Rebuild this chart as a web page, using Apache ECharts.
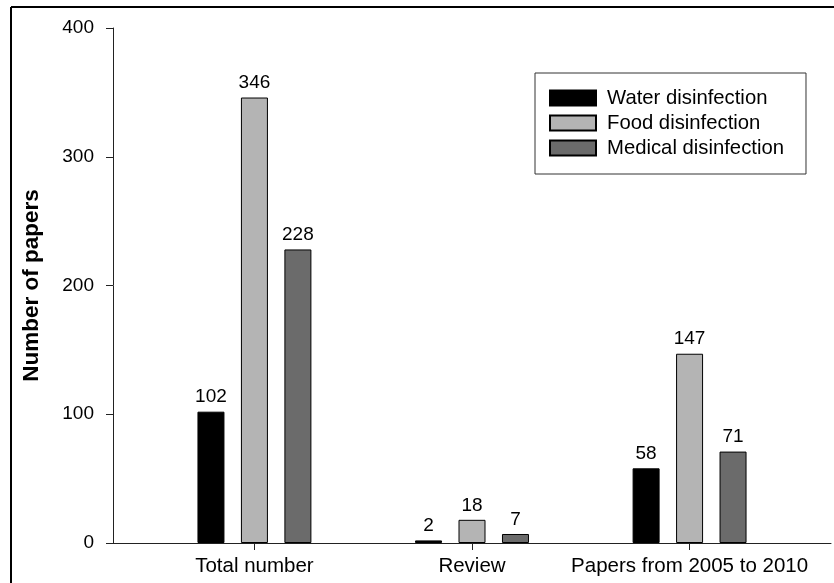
<!DOCTYPE html>
<html>
<head>
<meta charset="utf-8">
<script src="https://cdn.jsdelivr.net/npm/echarts@6/dist/echarts.min.js"></script>
<style>
html,body{margin:0;padding:0;background:#fff;}
#chart{width:834px;height:583px;}
</style>
</head>
<body>
<div id="chart"></div>
<script>
const categories = ['Total number', 'Review', 'Papers from 2005 to 2010'];
const seriesNames = ['Water disinfection', 'Food disinfection', 'Medical disinfection'];
const waterValues = [102, 2, 58];
const foodValues = [346, 18, 147];
const medicalValues = [228, 7, 71];
const yTicks = [0, 100, 200, 300, 400];
const seriesColors = ['#000000', '#b4b4b4', '#6b6b6b'];

const FONT = '"Liberation Sans", Arial, Helvetica, sans-serif';
const chart = echarts.init(document.getElementById('chart'), null, {renderer: 'canvas'});

function mk(name, vals, color) {
  return {
    name: name,
    type: 'bar',
    data: vals.map((v, i) => [i, v]),
    barWidth: 27,
    barGap: '61%',
    itemStyle: {color: color, borderColor: '#000', borderWidth: 1},
    label: {show: true, position: 'top', distance: 5, color: '#000', fontSize: 19, fontFamily: FONT},
    emphasis: {disabled: true}
  };
}

chart.setOption({
  animation: false,
  backgroundColor: '#fff',
  textStyle: {fontFamily: FONT, color: '#000'},
  grid: {left: 113, right: 3, top: 28, bottom: 40, containLabel: false},
  xAxis: {
    type: 'value',
    min: -0.65,
    max: 2.65,
    splitLine: {show: false},
    axisLine: {show: true, onZero: false, lineStyle: {color: '#222', width: 1}},
    axisTick: {show: true, customValues: [0, 1, 2], length: 7, inside: false, lineStyle: {color: '#222'}},
    axisLabel: {show: true, customValues: [0, 1, 2], margin: 13, fontSize: 20.5, color: '#000', fontFamily: FONT,
      formatter: v => categories[Math.round(v)] || ''}
  },
  yAxis: {
    type: 'value',
    min: yTicks[0],
    max: yTicks[yTicks.length - 1],
    interval: 100,
    name: 'Number of papers',
    nameLocation: 'middle',
    nameGap: 70,
    nameTextStyle: {fontSize: 22.5, fontWeight: 'bold', color: '#000', fontFamily: FONT},
    splitLine: {show: false},
    axisLine: {show: true, onZero: false, lineStyle: {color: '#222', width: 1}},
    axisTick: {show: true, length: 7, lineStyle: {color: '#222'}},
    axisLabel: {margin: 19, fontSize: 19, color: '#000', fontFamily: FONT}
  },
  legend: {
    data: seriesNames,
    orient: 'vertical',
    left: 535,
    top: 73,
    padding: [15, 22, 16, 14],
    itemWidth: 46,
    itemHeight: 15,
    itemGap: 5,
    backgroundColor: '#fff',
    borderColor: '#333',
    borderWidth: 1,
    borderRadius: 0,
    icon: 'rect',
    textStyle: {fontSize: 20.3, color: '#000', fontFamily: FONT, padding: [0, 0, 0, 6]}
  },
  graphic: [
    {type: 'line', shape: {x1: 11, y1: 7, x2: 834, y2: 7}, style: {stroke: '#000', lineWidth: 2}},
    {type: 'line', shape: {x1: 11, y1: 7, x2: 11, y2: 583}, style: {stroke: '#000', lineWidth: 2}}
  ],
  series: [
    mk(seriesNames[0], waterValues, seriesColors[0]),
    mk(seriesNames[1], foodValues, seriesColors[1]),
    mk(seriesNames[2], medicalValues, seriesColors[2])
  ]
});
</script>
</body>
</html>
